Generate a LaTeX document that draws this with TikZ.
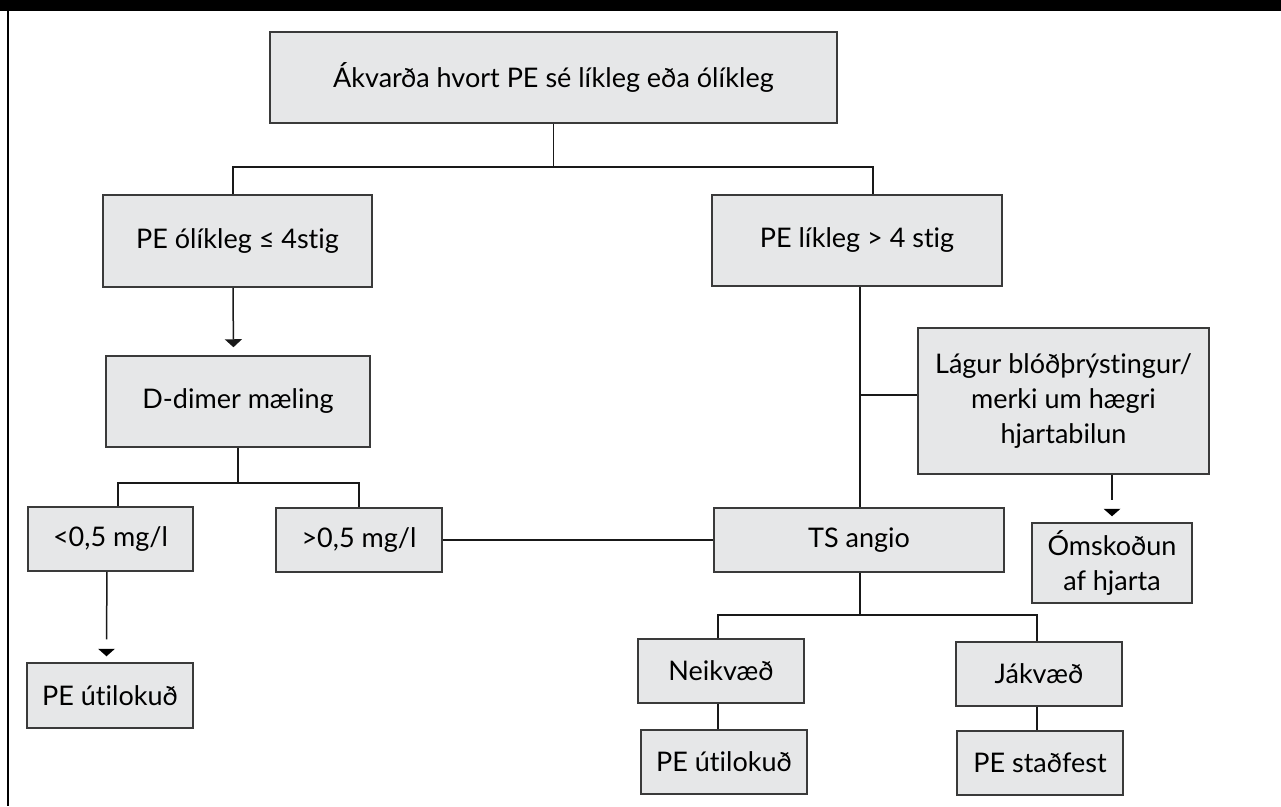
\documentclass[tikz,border=0pt]{standalone}
\usepackage{fontspec}
\setmainfont{Lato}[Ligatures=NoCommon]
\usetikzlibrary{arrows.meta}
\definecolor{boxfill}{HTML}{E6E7E8}
\definecolor{boxline}{HTML}{3A3A3A}
\tikzset{
  stepbox/.style={draw=boxline, fill=boxfill, line width=1.5pt, inner sep=0pt, align=center,
    font=\fontsize{27}{35}\selectfont, text=black},
  conn/.style={draw=black!90, line width=1.5pt},
  arr/.style={conn, -{Triangle[width=17pt,length=8pt]}, shorten >=8pt},
  tip/.style={fill=black},
}
\newcommand{\bx}[6]{\node[stepbox, minimum width=#4pt, minimum height=#5pt] (#1) at (#2,#3) {#6};}
\begin{document}
\begin{tikzpicture}[x=1pt,y=-1pt]
\useasboundingbox (0,0) rectangle (1281,806);
\fill[black] (0,0) rectangle (1281,11);
\draw[line width=2pt] (8,11) -- (8,806);

\bx{top}{553.5}{77.5}{567}{91}{Ákvarða hvort PE sé líkleg eða ólíkleg}
\bx{likm}{237.5}{241}{269}{92}{PE ólíkleg ≤ 4stig}
\bx{likp}{857}{240.5}{290}{91}{PE líkleg > 4 stig}
\bx{dd}{238}{401.5}{264}{91}{D-dimer mæling}
\bx{lt}{110.5}{539}{165}{64}{<0,5 mg/l}
\bx{gt}{359}{540}{166}{64}{>0,5 mg/l}
\bx{excla}{110}{695.5}{166}{65}{PE útilokuð}
\bx{lagur}{1063.5}{401}{291}{146}{Lágur blóðþrýstingur/\\merki um hægri\\hjartabilun}
\bx{oms}{1112}{563}{160}{80}{Ómskoðun\\af hjarta}
\bx{ts}{859}{540}{290}{64}{TS angio}
\bx{neik}{721}{671}{166}{64}{Neikvæð}
\bx{jak}{1039}{674}{166}{64}{Jákvæð}
\bx{exclb}{724}{762}{166}{64}{PE útilokuð}
\bx{conf}{1040}{763}{166}{64}{PE staðfest}

% top split
\coordinate (j1) at (552,167);
\draw[conn] (top.south) -- (top.south |- j1);
\draw[conn] ([xshift=-4.5pt]likm.north) |- ([xshift=16pt]likp.north |- j1) -- ([xshift=16pt]likp.north);

% left branch
\draw[arr] ([xshift=-4.5pt]likm.south) -- ([xshift=-4.5pt]dd.north);
\coordinate (j2) at (236,483);
\draw[conn] (dd.south) -- (dd.south |- j2);
\draw[conn] ([xshift=7.5pt]lt.north) |- (gt.north |- j2) -- (gt.north);
\draw[conn] ([xshift=-3.5pt]lt.south) -- ([xshift=-3.5pt,yshift=23pt]excla.north);
\fill[tip] ([xshift=-3.5pt,yshift=6pt]excla.north) -- ++(-8.5,-7.5) -- ++(17,0) -- cycle;
\draw[conn] (gt.east) -- (ts.west);

% right branch
\draw[conn] ([xshift=3pt]likp.south) -- ([xshift=3pt]likp.south |- ts.north);
\coordinate (j3) at (860,395);
\draw[conn] (j3) -- (lagur.west |- j3);
\draw[conn] (oms.north |- lagur.south) -- ([yshift=22pt]oms.north);
\fill[tip] ([yshift=6pt]oms.north) -- ++(-8.5,-7.5) -- ++(17,0) -- cycle;

% TS split
\coordinate (j4) at (860,615);
\draw[conn] ([xshift=1pt]ts.south) -- ([xshift=1pt]ts.south |- j4);
\draw[conn] ([xshift=-3pt]neik.north) |- ([xshift=-2pt]jak.north |- j4) -- ([xshift=-2pt]jak.north);
\draw[conn] ([xshift=-3pt]neik.south) -- ([xshift=-3pt]neik.south |- exclb.north);
\draw[conn] ([xshift=-2pt]jak.south) -- ([xshift=-2pt]jak.south |- conf.north);
\end{tikzpicture}
\end{document}
